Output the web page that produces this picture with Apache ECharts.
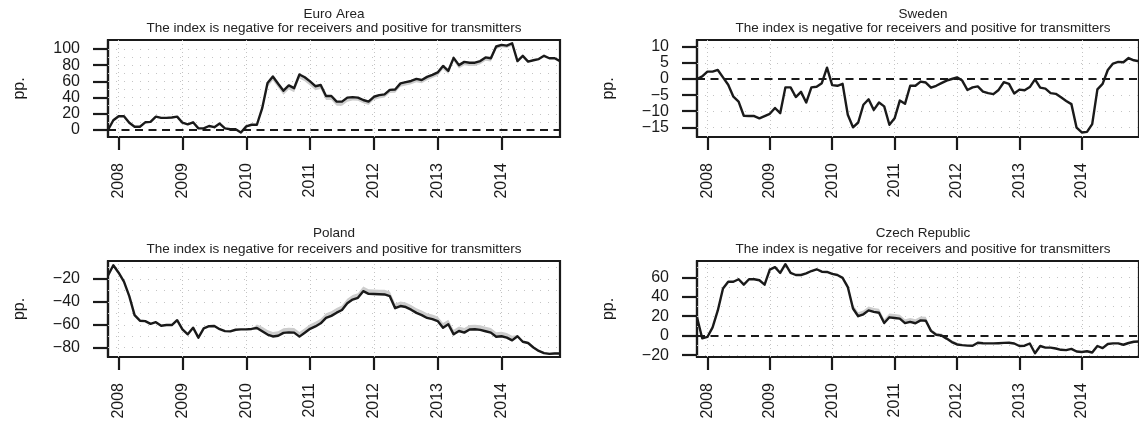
<!DOCTYPE html>
<html><head><meta charset="utf-8">
<script src="https://cdn.jsdelivr.net/npm/echarts@6/dist/echarts.min.js"></script>
<style>html,body{margin:0;padding:0;background:#fff}#c{width:1139px;height:423px}</style>
</head><body><div id="c"></div>
<script>
// ---- data ----
const firstYear = 2007, firstMonth = 11, monthCount = 86; // Nov 2007 .. Dec 2014
const months = [];
for (let k = 0; k < monthCount; k++) {
  const m = firstMonth - 1 + k;
  const y = firstYear + Math.floor(m / 12);
  months.push(y + '-' + String((m % 12) + 1).padStart(2, '0'));
}
const panelNames = ['Euro Area', 'Sweden', 'Poland', 'Czech Republic'];
const subtitle = 'The index is negative for receivers and positive for transmitters';
const yLabel = 'pp.';

const euroArea = [0,12,17,17,9,4,4,9.5,10,16.5, 15,15,15.5,16.5,9,7,9.5,2,2,5, 3.5,8,2,1,1,-3,4.5,6.5,6.5,27,
  58,66,57,48.5,55,51.6,68.5,65,60,54, 55.5,42,42,35,35,40,40.5,40,37,35, 41,43,44,49.5,50,57.5,59,60.5,63,61.7,
  65.5,68,71,79,73,89,80,84,83,83, 85,89.5,88.5,103,105,104,107,85,91.4,84.4, 86,87.5,91.5,88.5,88.5,85];
const sweden = [0,0.8,2.3,2.3,2.8,0.5,-1.8,-5.5,-7,-11.4, -11.5,-11.5,-12.2,-11.5,-10.8,-9,-10.6,-2.6,-2.6,-5.6,
  -4,-7.3,-2.6,-2.4,-1.3,3.5,-1.9,-2.1,-1.5,-11.1, -15,-13.5,-8,-6.3,-9.6,-7.3,-8.5,-14.2,-12.2,-6.7,
  -7.7,-2.1,-2.1,-0.8,-1.1,-2.7,-2.1,-1.3,-0.5,0, 0.5,-0.5,-3.4,-2.6,-2.3,-3.9,-4.4,-4.7,-3.4,-1.0,
  -1.5,-4.5,-3.3,-3.5,-2.5,-0.1,-2.7,-3.0,-4.4,-4.6, -5.7,-6.8,-7.8,-15.1,-16.6,-16.4,-14,-3.2,-1.5,2.8,
  4.8,5.3,5.2,6.5,5.8,5.5];
const poland = [-17,-8,-14.5,-22.3,-35,-51.5,-56.4,-56.8,-59.2,-57.7, -60.8,-60.2,-60.2,-56,-64,-68.3,-62.5,-71.2,-63.2,-61.2,
  -61,-63.8,-65.5,-65.7,-64.3,-64,-64,-63.6,-62.8,-65.7, -68.5,-70.2,-69.6,-67,-66.6,-66.8,-70.3,-67,-63.5,-61.4,
  -58.7,-54,-52.2,-49.4,-47.1,-41.2,-38,-36.4,-30.6,-33, -33.1,-33.3,-33.5,-35,-45.5,-43.6,-44.5,-46.8,-49.6,-51.5,
  -54,-55.1,-56.7,-62.5,-59.5,-68.3,-65.4,-66.8,-64.1,-63.9, -64.4,-65.6,-66.8,-70.4,-70,-71.2,-73.6,-70,-74.8,-75.9,
  -79.8,-82.8,-84.7,-85.4,-85,-85];
const czech = [19,-2.7,-1.3,8.5,26,48.5,55.5,55.5,58,52.5, 58,58,57,52.5,68,70.5,64.5,73.5,64.5,62.4,
  62.4,64,66.5,68.3,65.8,65.5,63.5,62.4,59.5,50, 28,20,22,26,24.5,23.6,13,18.9,18.2,17.5,
  13,14.2,12.8,15.8,15.4,5,1,0.2,-3,-6.6, -9,-9.7,-10.2,-10.3,-7.3,-7.8,-7.9,-7.9,-7.7,-7.4,
  -7.3,-8,-10.6,-10.3,-8,-18,-10.6,-12.3,-12.3,-13.2, -14.5,-14.8,-13.5,-16.3,-16.7,-16,-17.3,-10.6,-12.8,-8.5,
  -7.9,-7.9,-9.3,-7.5,-6.2,-6];

// estimated width of the grey band below / above each line
const euroBandBelow = [0,0,0,0,0,0,0,0,0,0, 0,0,0,0,0,0,0,0,0,0, 0,0,0,0,0,0,0,0,0,4,
  5,5,5,5,5,5,5,5,5,5, 5,5,5,5,5,5,4,4,4,4, 4,4,4,4,4,4,4,4,4,4,
  4,4,4,4,4,4,4,4,4,4, 4,4,4,3,3,3,3,1,1,1, 1,1,1,1,1,1];
const euroBandAbove = new Array(86).fill(0);
const swedenBandBelow = new Array(86).fill(0);
const swedenBandAbove = new Array(86).fill(0);
const polandBandBelow = new Array(86).fill(0);
const polandBandAbove = [0,0,0,0,0,0,0,0,0,0, 0,0,0,0,0,0,0,0,0,0, 0,0,0,0,0,0,0,0,3,4,
  4,4,4,4,4,4,4,4,4,4, 4,4,4,4,4,4,4,4,4,4, 4,4,4,4,4,4,4,4,4,4,
  4,4,4,4,4,4,4,4,4,4, 4,4,4,4,4,4,4,1,1,1, 1,1,1,1,1,1];
const czechBandBelow = new Array(86).fill(0);
const czechBandAbove = [0,0,0,0,0,0,0,0,0,0, 0,0,0,0,0,0,0,0,0,0, 0,0,0,0,0,0,0,0,0,3,
  4,4,4,4,4,4,4,4,4,4, 4,4,4,4,4,2,2,2,2,2, 2,0,0,0,0,0,0,0,0,0,
  0,0,0,0,0,0,0,0,0,0, 0,0,0,0,0,0,0,0,0,0, 0,0,0,0,0,0];

const euroTicks = [0,20,40,60,80,100];
const swedenTicks = [10,5,0,-5,-10,-15];
const polandTicks = [-20,-40,-60,-80];
const czechTicks = [60,40,20,0,-20];
const euroGridVals = [10,20,30,40,50,60,70,80,90,100];
const swedenGridVals = [10,5,-5,-10,-15];
const polandGridVals = [-10,-20,-30,-40,-50,-60,-70,-80];
const czechGridVals = [70,60,50,40,30,20,10,-10,-20];

// ---- layout ----
const INK = '#1a1a1a';
const FONT = "'Liberation Sans', Arial, Helvetica, sans-serif";
const panels = [
  {name: panelNames[0], data: euroArea, below: euroBandBelow, above: euroBandAbove, ticks: euroTicks, grid: euroGridVals, zero: true,
   min: -8.6, max: 111, left: 108, top: 40, height: 97, titleTop: 7, subTop: 21.5},
  {name: panelNames[1], data: sweden, below: swedenBandBelow, above: swedenBandAbove, ticks: swedenTicks, grid: swedenGridVals, zero: true,
   min: -18, max: 12.1, left: 697, top: 40, height: 97, titleTop: 7, subTop: 21.5},
  {name: panelNames[2], data: poland, below: polandBandBelow, above: polandBandAbove, ticks: polandTicks, grid: polandGridVals, zero: false,
   min: -88.1, max: -4.3, left: 108, top: 261, height: 96, titleTop: 226, subTop: 242.5},
  {name: panelNames[3], data: czech, below: czechBandBelow, above: czechBandAbove, ticks: czechTicks, grid: czechGridVals, zero: true,
   min: -21.9, max: 76.8, left: 697, top: 261, height: 96, titleTop: 226, subTop: 242.5}
];
const PW = 452;
const isJan = (i, v) => String(v).endsWith('-01');

const option = {
  animation: false,
  backgroundColor: '#fff',
  textStyle: {fontFamily: FONT},
  title: [], grid: [], xAxis: [], yAxis: [], series: []
};

panels.forEach((p, k) => {
  const cx = p.left + PW / 2;
  option.title.push({text: p.name, left: cx, top: p.titleTop, textAlign: 'center', padding: 0,
    textStyle: {fontSize: 13.5, fontWeight: 'normal', color: '#222', fontFamily: FONT}});
  option.title.push({text: subtitle, left: cx, top: p.subTop, textAlign: 'center', padding: 0,
    textStyle: {fontSize: 13.5, fontWeight: 'normal', color: '#222', fontFamily: FONT}});
  option.grid.push({left: p.left, top: p.top, width: PW, height: p.height, show: true,
    borderColor: INK, borderWidth: 2.2, backgroundColor: 'transparent', containLabel: false});
  option.xAxis.push({type: 'category', gridIndex: k, data: months, boundaryGap: false,
    axisLine: {show: true, onZero: false, lineStyle: {color: INK, width: 2.2}},
    axisTick: {show: true, interval: isJan, length: 13, lineStyle: {color: INK, width: 2.2}},
    axisLabel: {show: true, interval: isJan, rotate: 90, margin: 26, fontSize: 16, color: INK, fontFamily: FONT,
      formatter: v => v.slice(0, 4)},
    splitLine: {show: false}});
  option.yAxis.push({type: 'value', gridIndex: k, min: p.min, max: p.max,
    name: yLabel, nameLocation: 'middle', nameRotate: 90, nameGap: 80,
    nameTextStyle: {fontSize: 16, color: INK, fontFamily: FONT},
    axisLine: {show: true, onZero: false, lineStyle: {color: INK, width: 2.2}},
    axisTick: {show: true, length: 15, customValues: p.ticks, lineStyle: {color: INK, width: 2.2}},
    axisLabel: {show: true, customValues: p.ticks, margin: 28, fontSize: 16, color: INK, fontFamily: FONT,
      formatter: v => String(v).replace('-', '\u2212')},
    splitLine: {show: false}});

  // background dotted grid (drawn first)
  const gl = [];
  p.grid.forEach(v => { if (v > p.min && v < p.max) gl.push({yAxis: v, lineStyle: {type: [1, 7]}}); });
  months.forEach(m => { if (m.endsWith('-01')) gl.push({xAxis: m, lineStyle: {type: [1, 3]}}); });
  option.series.push({type: 'line', xAxisIndex: k, yAxisIndex: k, data: [], silent: true, symbol: 'none',
    markLine: {silent: true, symbol: 'none', z: 1, label: {show: false},
      lineStyle: {color: '#c4c4c4', width: 1}, data: gl}});

  // grey band (stacked)
  const base = p.data.map((v, i) => v - p.below[i]);
  const width = p.data.map((v, i) => p.below[i] + p.above[i]);
  option.series.push({type: 'line', xAxisIndex: k, yAxisIndex: k, data: base, stack: 'band' + k, stackStrategy: 'all',
    symbol: 'none', silent: true, lineStyle: {opacity: 0}, z: 2});
  option.series.push({type: 'line', xAxisIndex: k, yAxisIndex: k, data: width, stack: 'band' + k, stackStrategy: 'all',
    symbol: 'none', silent: true, lineStyle: {opacity: 0}, areaStyle: {color: '#cdcdcd', opacity: 1}, z: 2});

  // main line
  const s = {type: 'line', xAxisIndex: k, yAxisIndex: k, data: p.data, symbol: 'none', z: 4,
    lineStyle: {color: INK, width: 2.4, join: 'round'}};
  if (p.zero) s.markLine = {silent: true, symbol: 'none', z: 3, label: {show: false},
    lineStyle: {color: INK, width: 2, type: [8, 5.5]}, data: [{yAxis: 0}]};
  option.series.push(s);
});

const chart = echarts.init(document.getElementById('c'), null, {renderer: 'canvas'});
chart.setOption(option);
</script>
</body></html>
